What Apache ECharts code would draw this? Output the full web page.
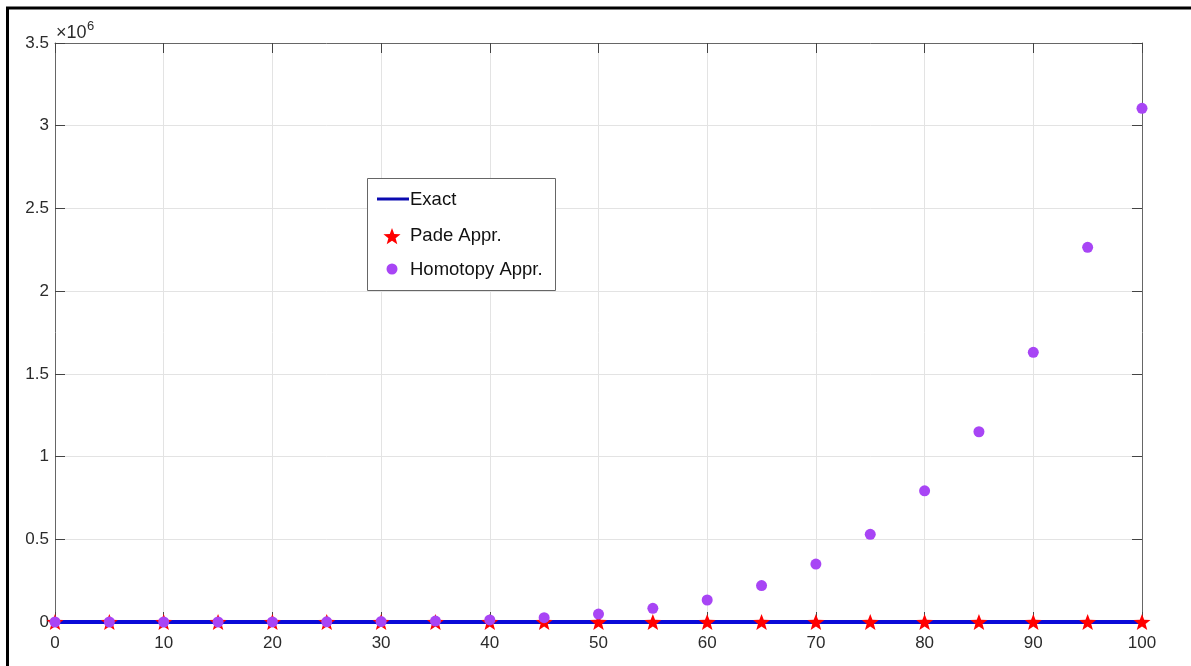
<!DOCTYPE html>
<html>
<head>
<meta charset="utf-8">
<script src="https://cdn.jsdelivr.net/npm/echarts@6/dist/echarts.min.js"></script>
<style>
html,body{margin:0;padding:0;background:#fff;}
#chart{width:1191px;height:666px;}
</style>
</head>
<body>
<div id="chart"></div>
<script>
// ---- data ----
var xValues = [0,5,10,15,20,25,30,35,40,45,50,55,60,65,70,75,80,85,90,95,100];
var exactValues = [0,0,0,0,0,0,0,0,0,0,0,0,0,0,0,0,0,0,0,0,0];
var padeValues  = [0,0,0,0,0,0,0,0,0,0,0,0,0,0,0,0,0,0,0,0,0];
var homotopyValues = [0,0,5,50,200,800,2300,5700,12500,26000,48000,83000,133000,220000,350000,530000,793000,1150000,1630000,2265000,3105000];
var xTicks = [0,10,20,30,40,50,60,70,80,90,100];
var yTickLabels = ['0','0.5','1','1.5','2','2.5','3','3.5'];
var seriesNames = ['Exact','Pade Appr.','Homotopy Appr.'];

function pairs(xs, ys){ return xs.map(function(x,i){ return [x, ys[i]]; }); }

var starPath = 'path://M50,0L62.35,33L97.55,34.55L70,56.5L79.39,90.45L50,71L20.61,90.45L30,56.5L2.45,34.55L37.65,33Z';
var FONT = '"Liberation Sans", Arial, sans-serif';
var TXT = '#2b2b2b';

var chart = echarts.init(document.getElementById('chart'), null, {renderer:'canvas'});

function starPoints(cx, cy, R, r){
  var pts = [];
  for (var i=0;i<10;i++){
    var a = (-90 + 36*i) * Math.PI/180;
    var rad = (i%2===0)?R:r;
    pts.push([cx + rad*Math.cos(a), cy + rad*Math.sin(a)]);
  }
  return pts;
}

var option = {
  backgroundColor: '#ffffff',
  animation: false,
  grid: {left: 55, right: 49, top: 43, bottom: 44, containLabel: false},
  xAxis: [{
    type: 'value', min: 0, max: 100, interval: 10, position: 'bottom',
    axisLine: {show: true, onZero: false, lineStyle: {color: '#666', width: 1}},
    axisTick: {show: true, inside: true, length: 10, lineStyle: {color: '#444'}},
    axisLabel: {show: true, margin: 13, fontSize: 17, fontFamily: FONT, color: TXT,
      formatter: function(v){ return xTicks.indexOf(v) >= 0 ? String(v) : ''; }},
    splitLine: {show: true, lineStyle: {color: '#e3e3e3', width: 1}}
  },{
    type: 'value', min: 0, max: 100, interval: 10, position: 'top',
    axisLine: {show: true, onZero: false, lineStyle: {color: '#666', width: 1}},
    axisTick: {show: true, inside: true, length: 10, lineStyle: {color: '#444'}},
    axisLabel: {show: false},
    splitLine: {show: false}
  }],
  yAxis: [{
    type: 'value', min: 0, max: 3500000, interval: 500000, position: 'left',
    axisLine: {show: true, onZero: false, lineStyle: {color: '#666', width: 1}},
    axisTick: {show: true, inside: true, length: 10, lineStyle: {color: '#444'}},
    axisLabel: {show: true, margin: 6, fontSize: 17, fontFamily: FONT, color: TXT,
      formatter: function(v){ var i = Math.round(v/500000); return yTickLabels[i] || ''; }},
    splitLine: {show: true, lineStyle: {color: '#e3e3e3', width: 1}}
  },{
    type: 'value', min: 0, max: 3500000, interval: 500000, position: 'right',
    axisLine: {show: true, onZero: false, lineStyle: {color: '#666', width: 1}},
    axisTick: {show: true, inside: true, length: 10, lineStyle: {color: '#444'}},
    axisLabel: {show: false},
    splitLine: {show: false}
  }],
  series: [{
    name: seriesNames[0], type: 'line', xAxisIndex: 0, yAxisIndex: 0,
    data: pairs(xValues, exactValues), showSymbol: false, symbol: 'none',
    lineStyle: {color: '#0a0ad8', width: 4}, z: 2
  },{
    name: seriesNames[1], type: 'scatter', xAxisIndex: 0, yAxisIndex: 0,
    data: pairs(xValues, padeValues), symbol: starPath, symbolSize: 17, symbolKeepAspect: true,
    itemStyle: {color: '#ff0000', opacity: 1}, z: 3
  },{
    name: seriesNames[2], type: 'scatter', xAxisIndex: 0, yAxisIndex: 0,
    data: pairs(xValues, homotopyValues), symbol: 'circle', symbolSize: 11,
    itemStyle: {color: '#a845f5', opacity: 1}, z: 4
  }],
  graphic: [
    {type: 'line', shape: {x1: 7.5, y1: 8, x2: 7.5, y2: 666}, style: {stroke: '#000', lineWidth: 3}, z: 100},
    {type: 'line', shape: {x1: 6, y1: 8, x2: 1191, y2: 8}, style: {stroke: '#000', lineWidth: 3}, z: 100},
    {type: 'text', x: 56, y: 33, z: 100,
      style: {text: '×10', fontSize: 18, fontFamily: FONT, fill: TXT, verticalAlign: 'middle'}},
    {type: 'text', x: 87, y: 26, z: 100,
      style: {text: '6', fontSize: 13, fontFamily: FONT, fill: TXT, verticalAlign: 'middle'}},
    {type: 'rect', shape: {x: 367.5, y: 178.5, width: 188, height: 112}, style: {fill: '#fff', stroke: '#666', lineWidth: 1}, z: 100},
    {type: 'line', shape: {x1: 377, y1: 199, x2: 409, y2: 199}, style: {stroke: '#0a0ab0', lineWidth: 3}, z: 101},
    {type: 'text', x: 410, y: 200, z: 101, style: {text: seriesNames[0], fontSize: 18.5, fontFamily: FONT, fill: '#111', verticalAlign: 'middle'}},
    {type: 'polygon', shape: {points: starPoints(392, 237, 9, 3.8)}, style: {fill: '#ff0000'}, z: 101},
    {type: 'text', x: 410, y: 236, z: 101, style: {text: seriesNames[1], fontSize: 18.5, fontFamily: FONT, fill: '#111', verticalAlign: 'middle'}},
    {type: 'circle', shape: {cx: 392, cy: 269, r: 5.5}, style: {fill: '#a845f5'}, z: 101},
    {type: 'text', x: 410, y: 270, z: 101, style: {text: seriesNames[2], fontSize: 18.5, fontFamily: FONT, fill: '#111', verticalAlign: 'middle'}}
  ]
};
chart.setOption(option);
</script>
</body>
</html>
